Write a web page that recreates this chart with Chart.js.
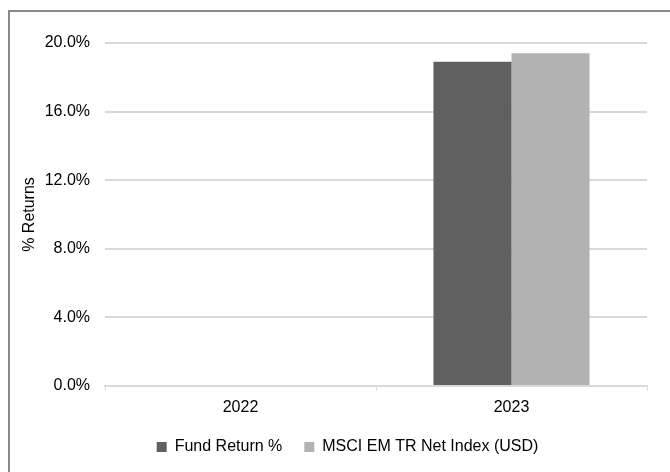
<!DOCTYPE html>
<html>
<head>
<meta charset="utf-8">
<script src="https://cdn.jsdelivr.net/npm/chart.js@4"></script>
<style>
  html, body { margin: 0; padding: 0; background: #fff; }
  #wrap { position: relative; width: 670px; height: 472px; overflow: hidden; }
  #frame { position: absolute; left: 8px; top: 10px; width: 800px; height: 600px;
           border-left: 2px solid #888; border-top: 2px solid #888; box-sizing: border-box; }
  canvas { position: absolute; left: 0; top: 0; }
</style>
</head>
<body>
<div id="wrap">
  <div id="frame"></div>
  <canvas id="c" width="670" height="472"></canvas>
</div>
<script>
const categories = ['2022', '2023'];
const fundReturn = [null, 18.9];
const msciIndex = [null, 19.4];
const seriesNames = ['Fund Return %', 'MSCI EM TR Net Index (USD)'];
const yTicks = [0, 4, 8, 12, 16, 20];

const font = { family: '"Liberation Sans", Arial, sans-serif', size: 16 };

const shiftLegend = {
  id: 'shiftLegend',
  afterLayout(chart) {
    if (chart.legend) { chart.legend.left += 16; chart.legend.right += 16; }
  }
};

new Chart(document.getElementById('c'), {
  type: 'bar',
  data: {
    labels: categories,
    datasets: [
      { label: seriesNames[0], data: fundReturn, backgroundColor: '#606060',
        categoryPercentage: 0.576, barPercentage: 1.0 },
      { label: seriesNames[1], data: msciIndex, backgroundColor: '#b2b2b2',
        categoryPercentage: 0.576, barPercentage: 1.0 }
    ]
  },
  plugins: [shiftLegend],
  options: {
    responsive: false,
    animation: false,
    devicePixelRatio: 1,
    layout: { padding: { left: 16, right: 23, top: 43, bottom: 7 } },
    plugins: {
      legend: {
        position: 'bottom',
        labels: { font: font, color: '#000', boxWidth: 10, boxHeight: 10, padding: 22 }
      },
      tooltip: { enabled: false }
    },
    scales: {
      x: {
        grid: { offset: true, drawOnChartArea: false, drawTicks: true, tickLength: 5,
                color: '#d9d9d9', lineWidth: 1 },
        border: { display: true, color: '#d9d9d9', width: 2 },
        ticks: { font: font, color: '#000', padding: 7 },
        afterFit: (s) => { s.height = 31; }
      },
      y: {
        min: 0, max: 20,
        afterBuildTicks: (s) => { s.ticks = yTicks.map(v => ({ value: v })); },
        grid: { color: '#d9d9d9', lineWidth: 2, drawTicks: false },
        border: { display: false },
        ticks: { font: font, color: '#000', padding: 15,
                 callback: (v) => v.toFixed(1) + '%' },
        title: { display: true, text: '% Returns', font: font, color: '#000' },
        afterFit: (s) => { s.width = 89; }
      }
    }
  }
});
</script>
</body>
</html>
